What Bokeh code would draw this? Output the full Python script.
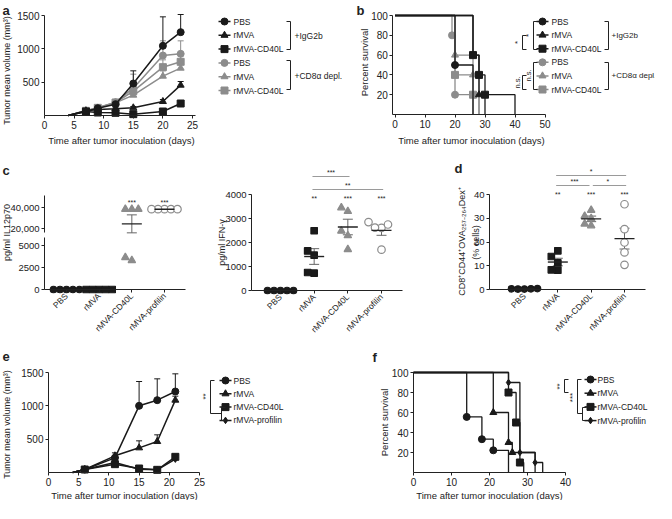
import math
import numpy as np
from bokeh.plotting import figure
from bokeh.models import (Range1d, LinearAxis, FixedTicker, NumeralTickFormatter,
                          Whisker, TeeHead, ColumnDataSource)
from bokeh.core.properties import value
from bokeh.embed import file_html
from bokeh.resources import INLINE

# ============================ DATA ============================
# (a) tumour growth: mean volume (mm^3) and upper SEM
a_days = [4, 7, 9, 12, 15, 20, 23]
a_pbs_igg = [0, 60, 110, 170, 480, 1045, 1250]
a_pbs_igg_sem = [0, 10, 15, 25, 190, 435, 265]
a_rmva_igg = [0, 70, 90, 100, 115, 210, 455]
a_rmva_igg_sem = [0, 10, 10, 15, 20, 30, 55]
a_cd40l_igg = [0, 60, 45, 40, 20, 60, 180]
a_cd40l_igg_sem = [0, 10, 10, 10, 10, 15, 30]
a_pbs_cd8 = [0, 70, 115, 200, 410, 900, 925]
a_pbs_cd8_sem = [0, 10, 15, 30, 210, 220, 195]
a_rmva_cd8 = [0, 70, 110, 190, 305, 590, 710]
a_rmva_cd8_sem = [0, 10, 15, 25, 60, 80, 100]
a_cd40l_cd8 = [0, 70, 115, 195, 365, 725, 805]
a_cd40l_cd8_sem = [0, 10, 15, 25, 70, 110, 120]
a_x_ticks = [0, 5, 10, 15, 20, 25]
a_y_ticks = [500, 1000, 1500]
a_labels = ["PBS", "rMVA", "rMVA-CD40L", "PBS", "rMVA", "rMVA-CD40L"]
a_groups = ["+IgG2b", "+CD8\u03b1 depl."]

# (b) survival (days, percent)
b_pbs_igg_t = [0, 20, 26]
b_pbs_igg_s = [100, 50, 0]
b_rmva_igg_t = [0, 26, 28, 30]
b_rmva_igg_s = [100, 60, 20, 0]
b_cd40l_igg_t = [0, 26, 28, 30, 40]
b_cd40l_igg_s = [100, 60, 40, 20, 0]
b_pbs_cd8_t = [0, 19, 20, 26]
b_pbs_cd8_s = [100, 80, 20, 0]
b_rmva_cd8_t = [0, 20, 26, 28]
b_rmva_cd8_s = [100, 60, 40, 0]
b_cd40l_cd8_t = [0, 20, 26, 28]
b_cd40l_cd8_s = [100, 40, 20, 0]
b_x_ticks = [0, 10, 20, 30, 40, 50]
b_y_ticks = [20, 40, 60, 80, 100]

# (c, d) dot plots
groups = ["PBS", "rMVA", "rMVA-CD40L", "rMVA-profilin"]
il12_pbs = [0, 0, 0, 0, 0]
il12_rmva = [0, 0, 0, 0, 0]
il12_cd40l = [38400, 38400, 38400, 3300, 3650]
il12_profilin = [38400, 38400, 38400, 38400, 38400]
il12_low_ticks = [0, 2500, 5000]
il12_high_ticks = [20000, 40000]
il12_stars = ["", "", "***", "***"]

ifn_pbs = [0, 0, 0, 0, 0]
ifn_rmva = [720, 750, 1470, 1650, 2490]
ifn_cd40l = [3450, 3300, 2290, 2480, 1710]
ifn_profilin = [2610, 2850, 2620, 2750, 1700]
ifn_ticks = [0, 1000, 2000, 3000, 4000]
ifn_stars = ["", "**", "***", "***"]
ifn_bars = [(1, 2, "***"), (1, 3, "**")]

dex_pbs = [0.3, 0.2, 0.4, 0.3, 0.2]
dex_rmva = [13.9, 16.3, 11.2, 8.1, 8.3]
dex_cd40l = [33.4, 29.9, 30.9, 26.9, 27.6]
dex_profilin = [35.9, 25.4, 19.8, 15.6, 10.4]
dex_ticks = [0, 10, 20, 30, 40]
dex_stars = ["", "**", "***", "***"]
dex_bars = [(1, 3, "*"), (1, 2, "***"), (2, 3, "*")]

# (e) tumour growth
e_days = [4, 6, 11, 15, 18, 21]
e_pbs = [0, 45, 220, 1000, 1085, 1215]
e_pbs_sem = [0, 5, 30, 365, 320, 265]
e_rmva = [0, 45, 250, 370, 465, 1085]
e_rmva_sem = [0, 5, 45, 105, 100, 60]
e_cd40l = [0, 45, 125, 60, 40, 235]
e_cd40l_sem = [0, 5, 20, 10, 10, 25]
e_prof = [0, 45, 150, 50, 40, 200]
e_prof_sem = [0, 5, 20, 10, 10, 25]
e_x_ticks = [0, 5, 10, 15, 20, 25]
e_y_ticks = [500, 1000, 1500]
e_labels = ["PBS", "rMVA", "rMVA-CD40L", "rMVA-profilin"]

# (f) survival
f_pbs_t = [0, 14, 18, 21, 25]
f_pbs_s = [100, 55.6, 33.3, 22.2, 0]
f_rmva_t = [0, 21, 25, 26, 32]
f_rmva_s = [100, 60, 30, 20, 0]
f_cd40l_t = [0, 25, 27, 28, 29]
f_cd40l_s = [100, 80, 50, 10, 0]
f_prof_t = [0, 25, 28, 32, 34]
f_prof_s = [100, 90, 20, 10, 0]
f_x_ticks = [0, 10, 20, 30, 40]
f_y_ticks = [20, 40, 60, 80, 100]

x_title = "Time after tumor inoculation (days)"
vol_title = "Tumor mean volume (mm\u00b3)"
surv_title = "Percent survival"

# ============================ STYLE / LAYOUT ============================
W, H = 655, 500
OX, OY = 8, 8
FONT = "Liberation Sans"
INK = "#222222"
BLACK = "#1a1a1a"
GRAY = "#8c8c8c"
BARGRAY = "#9a9a9a"
TITLE = "9.5px"
MS = 7

p = figure(width=W, height=H, x_range=Range1d(OX, OX + W), y_range=Range1d(OY + H, OY),
           output_backend="svg", toolbar_location=None,
           x_axis_location=None, y_axis_location=None, min_border=0,
           outline_line_color=None, background_fill_color="white",
           border_fill_color="white")
p.grid.grid_line_color = None


def lin(va, pa, vb, pb, p_start, p_end):
    k = (vb - va) / (pb - pa)
    return Range1d(start=va + (p_start - pa) * k, end=va + (p_end - pa) * k)


# value -> picture pixel anchors for every panel
XA = dict(a=(0, 52, 25, 200), b=(0, 402.5, 50, 552.5), c1=(0, 74, 3, 172),
          c2=(0, 288, 3, 389), d=(0, 532, 3, 632), e=(0, 56, 25, 207),
          f=(0, 421, 40, 573))
YA = dict(a=(0, 123, 1500, 23), b=(0, 122, 100, 23), c1l=(0, 297, 5000, 253),
          c1u=(20000, 236, 40000, 215), c2=(0, 298, 4000, 202), d=(0, 297, 40, 202),
          e=(0, 480, 1500, 380), f=(0, 480, 100, 380))
p.extra_x_ranges = {k: lin(*v, OX, OX + W) for k, v in XA.items()}
p.extra_y_ranges = {k: lin(*v, OY + H, OY) for k, v in YA.items()}


def kpx(anchor):
    va, pa, vb, pb = anchor
    return (pb - pa) / (vb - va)


def add_axis(side, xr, yr, loc, bounds, ticks, fmt=None, overrides=None,
             orient=None, size="10px"):
    ax = LinearAxis(x_range_name=xr, y_range_name=yr, fixed_location=loc,
                    bounds=bounds, ticker=FixedTicker(ticks=ticks))
    if fmt is not None:
        ax.formatter = fmt
    if overrides is not None:
        ax.major_label_overrides = overrides
    if orient is not None:
        ax.major_label_orientation = orient
    ax.axis_line_color = INK
    ax.axis_line_width = 1
    ax.major_tick_line_color = INK
    ax.major_tick_out = 3
    ax.major_tick_in = 0
    ax.minor_tick_line_color = None
    ax.major_label_text_font = FONT
    ax.major_label_text_font_size = size
    ax.major_label_text_color = INK
    ax.major_label_standoff = 2
    p.add_layout(ax, side)
    return ax


def txt(x, y, s, size=TITLE, align="center", angle=0.0, bold=False,
        color=INK, xr="default", yr="default"):
    p.text(x=x, y=y, text=s, text_font=value(FONT), text_font_size=value(size),
           text_align=align, text_baseline="middle", angle=angle,
           text_font_style="bold" if bold else "normal", text_color=color,
           x_range_name=xr, y_range_name=yr)


def bracket(x, y_top, y_bot, tick, color=INK):
    p.line([x + tick, x, x, x + tick], [y_top, y_top, y_bot, y_bot],
           line_color=color, line_width=1)


def legend(xm, xt, y0, dy, labels, markers, colors, sizes, size="8.5px"):
    n = len(labels)
    ys = [y0 + i * dy for i in range(n)]
    p.segment(x0=[xm - 6] * n, y0=ys, x1=[xm + 6] * n, y1=ys,
              line_color=colors, line_width=1.5)
    p.scatter(x=[xm] * n, y=ys, marker=markers, size=sizes,
              fill_color=colors, line_color=colors)
    txt([xt] * n, ys, labels, size=size, align="left")


def growth(xr, yr, days, vals, sem, marker, color, size):
    p.line(days, vals, x_range_name=xr, y_range_name=yr, line_color=color, line_width=1.5)
    idx = [i for i, v in enumerate(vals) if v > 0]
    src = ColumnDataSource(dict(base=[days[i] for i in idx],
                                lower=[vals[i] for i in idx],
                                upper=[vals[i] + sem[i] for i in idx]))
    p.add_layout(Whisker(source=src, base="base", lower="lower", upper="upper",
                         dimension="height", line_color=color, line_width=1,
                         upper_head=TeeHead(size=6, line_color=color, line_width=1),
                         lower_head=None, level="underlay",
                         x_range_name=xr, y_range_name=yr))
    p.scatter([days[i] for i in idx], [vals[i] for i in idx], marker=marker, size=size,
              fill_color=color, line_color=color, x_range_name=xr, y_range_name=yr)


def km(xr, yr, t, s, marker, color, size):
    p.step(t, s, mode="after", x_range_name=xr, y_range_name=yr,
           line_color=color, line_width=1.3)
    pts = [(ti, si) for ti, si in zip(t[1:], s[1:]) if si > 0]
    p.scatter([q[0] for q in pts], [q[1] for q in pts], marker=marker, size=size,
              fill_color=color, line_color=color, x_range_name=xr, y_range_name=yr)


def swarm(vals, ypix, kx, step=6.5, size=6.5):
    n = len(vals)
    order = sorted(range(n), key=lambda i: vals[i])
    placed, offs = [], [0.0] * n
    for i in order:
        y = ypix(vals[i])
        xo = 0.0
        for k in (0, -1, 1, -2, 2, -3, 3, -4, 4):
            xo = k * step
            if all((xo - px) ** 2 + (y - py) ** 2 >= size ** 2 - 1e-9 for px, py in placed):
                break
        placed.append((xo, y))
        offs[i] = xo / kx
    return offs


def dot_panel(xr, yr_for, ypix, kx, data, styles):
    for gi, vals in enumerate(data):
        mk, fill, line, sz = styles[gi]
        offs = swarm(vals, ypix, kx)
        parts = {}
        for o, v in zip(offs, vals):
            parts.setdefault(yr_for(v), ([], []))
            parts[yr_for(v)][0].append(gi + o)
            parts[yr_for(v)][1].append(v)
        for yr, (xx, vv) in parts.items():
            p.scatter(xx, vv, marker=mk, size=sz, fill_color=fill, line_color=line,
                      line_width=1.2, x_range_name=xr, y_range_name=yr)
        arr = np.array(vals, dtype=float)
        m = float(arr.mean())
        se = float(arr.std(ddof=1) / math.sqrt(len(arr)))
        if m > 0:
            yrm = yr_for(m)
            p.scatter([gi], [m], marker="dash", size=20, line_color=INK, line_width=1.4,
                      x_range_name=xr, y_range_name=yrm)
            if se > 0:
                src = ColumnDataSource(dict(base=[gi], lower=[m - se], upper=[m + se]))
                p.add_layout(Whisker(source=src, base="base", lower="lower", upper="upper",
                                     dimension="height", line_color="#666666", line_width=1,
                                     upper_head=TeeHead(size=10, line_color="#666666", line_width=1),
                                     lower_head=TeeHead(size=10, line_color="#666666", line_width=1),
                                     x_range_name=xr, y_range_name=yrm))


dot_styles = [("circle", BLACK, BLACK, 6.5), ("square", BLACK, BLACK, 6.5),
              ("triangle", GRAY, GRAY, 7.5), ("circle", "white", GRAY, 7.5)]
cat_over = {i: g for i, g in enumerate(groups)}

# ============================ PANEL a ============================
add_axis("below", "a", "a", 0, (0, 25.5), a_x_ticks)
add_axis("left", "a", "a", 0, (0, 1500), a_y_ticks)
for vals, sem, mk, col in [(a_pbs_cd8, a_pbs_cd8_sem, "circle", GRAY),
                           (a_rmva_cd8, a_rmva_cd8_sem, "triangle", GRAY),
                           (a_cd40l_cd8, a_cd40l_cd8_sem, "square", GRAY),
                           (a_pbs_igg, a_pbs_igg_sem, "circle", BLACK),
                           (a_rmva_igg, a_rmva_igg_sem, "triangle", BLACK),
                           (a_cd40l_igg, a_cd40l_igg_sem, "square", BLACK)]:
    growth("a", "a", a_days, vals, sem, mk, col, MS)
legend(232, 241, 29, 13.8, a_labels, ["circle", "triangle", "square"] * 2,
       [BLACK] * 3 + [GRAY] * 3, [MS] * 6)
bracket(298, 29, 57, -4)
bracket(298, 68, 97, -4)
txt([302, 302], [43, 83], a_groups, size="8.5px", align="left")
txt([129], [148], [x_title])
txt([14], [78], [vol_title], size="9px", angle=math.pi / 2)
txt([10], [18], ["a"], size="13px", align="left", bold=True)

# ============================ PANEL b ============================
add_axis("below", "b", "b", 0, (-0.7, 50.3), b_x_ticks)
add_axis("left", "b", "b", -0.7, (0, 100), b_y_ticks)
for t, s, mk, col in [(b_pbs_cd8_t, b_pbs_cd8_s, "circle", GRAY),
                      (b_rmva_cd8_t, b_rmva_cd8_s, "triangle", GRAY),
                      (b_cd40l_cd8_t, b_cd40l_cd8_s, "square", GRAY),
                      (b_pbs_igg_t, b_pbs_igg_s, "circle", BLACK),
                      (b_rmva_igg_t, b_rmva_igg_s, "triangle", BLACK),
                      (b_cd40l_igg_t, b_cd40l_igg_s, "square", BLACK)]:
    km("b", "b", t, s, mk, col, MS)
legend(550, 559, 29, 13.6, a_labels, ["circle", "triangle", "square"] * 2,
       [BLACK] * 3 + [GRAY] * 3, [MS] * 6)
bracket(616, 29, 57, -4)
bracket(616, 70, 97, -4)
txt([619, 619], [43, 83], a_groups, size="8px", align="left")
bracket(541, 29, 57, 4)
bracket(530, 43, 57, 4)
bracket(541, 70, 97, 4)
bracket(530, 83, 97, 4)
txt([536, 525], [43, 50], ["*", "*"], size="8px", angle=math.pi / 2)
txt([536, 525], [83, 90], ["n.s.", "n.s."], size="7.5px", angle=math.pi / 2)
txt([479], [148], [x_title])
txt([372], [70], [surv_title], angle=math.pi / 2)
txt([364], [18], ["b"], size="13px", align="left", bold=True)

# ============================ PANEL c (IL12p70, broken axis) ============================
c1_yl, c1_yu = YA["c1l"], YA["c1u"]


def c1_range(v):
    return "c1l" if v <= 5000 else "c1u"


def c1_pix(v):
    anc = c1_yl if v <= 5000 else c1_yu
    return (v - anc[0]) * kpx(anc)


add_axis("below", "c1", "c1l", 0, (-0.67, 3.64), [0, 1, 2, 3], overrides=cat_over,
         orient=math.pi / 4, size="8.5px")
add_axis("left", "c1", "c1l", -0.67, (0, 5900), il12_low_ticks,
         fmt=NumeralTickFormatter(format="0"), size="9.5px")
add_axis("left", "c1", "c1u", -0.67, (16300, 51400), il12_high_ticks,
         fmt=NumeralTickFormatter(format="0,0"), size="9.5px")
dot_panel("c1", c1_range, lambda v: -c1_pix(v), kpx(XA["c1"]),
          [il12_pbs, il12_rmva, il12_cd40l, il12_profilin], dot_styles)
txt([0, 1, 2, 3], [210] * 4, il12_stars, size="7px", xr="c1")
txt([14], [240], ["pg/ml IL12p70"], size="9px", angle=math.pi / 2)
txt([10], [178], ["c"], size="13px", align="left", bold=True)

# ============================ PANEL c (IFN-gamma) ============================
add_axis("below", "c2", "c2", 0, (-0.86, 3.62), [0, 1, 2, 3], overrides=cat_over,
         orient=math.pi / 4, size="8.5px")
add_axis("left", "c2", "c2", -0.86, (0, 4000), ifn_ticks, size="9.5px")
dot_panel("c2", lambda v: "c2", lambda v: -v * kpx(YA["c2"]), kpx(XA["c2"]),
          [ifn_pbs, ifn_rmva, ifn_cd40l, ifn_profilin], dot_styles)
txt([0, 1, 2, 3], [206] * 4, ifn_stars, size="7px", xr="c2")
for (g0, g1, lab), yb in zip(ifn_bars, [184, 197]):
    p.segment(x0=[g0 - 0.05], y0=[yb], x1=[g1 + 0.05], y1=[yb], line_color=BARGRAY,
              line_width=1, x_range_name="c2")
    txt([(g0 + g1) / 2], [yb - 4], [lab], size="7px", xr="c2")
txt([229], [250], ["pg/ml IFN-\u03b3"], size="9px", angle=math.pi / 2)

# ============================ PANEL d ============================
add_axis("below", "d", "d", 0, (-1.05, 3.63), [0, 1, 2, 3], overrides=cat_over,
         orient=math.pi / 4, size="8.5px")
add_axis("left", "d", "d", -1.05, (0, 40), dex_ticks, size="9.5px")
dot_panel("d", lambda v: "d", lambda v: -v * kpx(YA["d"]), kpx(XA["d"]),
          [dex_pbs, dex_rmva, dex_cd40l, dex_profilin], dot_styles)
txt([0, 1, 2, 3], [202] * 4, dex_stars, size="7px", xr="d")
for (g0, g1, lab), yb in zip(dex_bars, [183, 193, 193]):
    a0 = g0 - 0.05 if g0 == 1 else g0 + 0.05
    a1 = g1 + 0.05 if g1 == 3 else g1 - 0.05
    p.segment(x0=[a0], y0=[yb], x1=[a1], y1=[yb], line_color=BARGRAY,
              line_width=1, x_range_name="d")
    txt([(g0 + g1) / 2], [yb - 4], [lab], size="7px", xr="d")
txt([469], [249], ["CD8\u207aCD44\u207aOVA\u2082\u2085\u2087\u208b\u2082\u2086\u2084Dex\u207a"],
    size="9px", angle=math.pi / 2)
txt([483], [250], ["(% cells)"], size="9px", angle=math.pi / 2)
txt([462], [176], ["d"], size="13px", align="left", bold=True)

# ============================ PANEL e ============================
add_axis("below", "e", "e", 0, (0, 25), e_x_ticks)
add_axis("left", "e", "e", 0, (0, 1500), e_y_ticks)
for vals, sem, mk, sz in [(e_prof, e_prof_sem, "diamond", 6.5),
                          (e_cd40l, e_cd40l_sem, "square", MS),
                          (e_rmva, e_rmva_sem, "triangle", MS),
                          (e_pbs, e_pbs_sem, "circle", MS)]:
    growth("e", "e", e_days, vals, sem, mk, BLACK, sz)
legend(233, 241, 388, 13.3, e_labels, ["circle", "triangle", "square", "diamond"],
       [BLACK] * 4, [MS, MS, MS, 6.5])
p.line([222, 218, 218, 229], [388, 388, 421, 421], line_color=INK, line_width=1)
bracket(229, 415, 428, 4)
txt([213], [404], ["**"], size="8px", angle=math.pi / 2)
txt([132], [503], [x_title])
txt([14], [432], [vol_title], size="9px", angle=math.pi / 2)
txt([10], [364], ["e"], size="13px", align="left", bold=True)

# ============================ PANEL f ============================
add_axis("below", "f", "f", 0, (0, 40), f_x_ticks)
add_axis("left", "f", "f", 0, (0, 100), f_y_ticks)
for t, s, mk, sz in [(f_prof_t, f_prof_s, "diamond", 6.5), (f_cd40l_t, f_cd40l_s, "square", MS),
                     (f_rmva_t, f_rmva_s, "triangle", MS), (f_pbs_t, f_pbs_s, "circle", MS)]:
    km("f", "f", t, s, mk, BLACK, sz)
legend(598, 605, 387, 13.7, e_labels, ["circle", "triangle", "square", "diamond"],
       [BLACK] * 4, [MS, MS, MS, 6.5])
bracket(572, 387, 400, 4)
p.line([589, 585, 585, 590], [387, 387, 421, 421], line_color=INK, line_width=1)
bracket(590, 415, 428, 4)
txt([567], [394], ["**"], size="8px", angle=math.pi / 2)
txt([580], [405], ["***"], size="8px", angle=math.pi / 2)
txt([497], [503], [x_title])
txt([392], [430], [surv_title], angle=math.pi / 2)
txt([380], [365], ["f"], size="13px", align="left", bold=True)

open("out.html", "w").write(file_html(p, INLINE))
